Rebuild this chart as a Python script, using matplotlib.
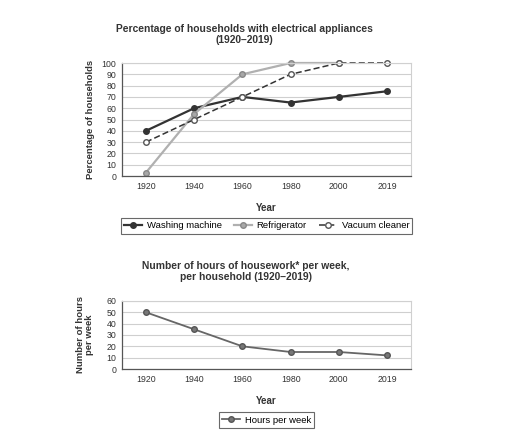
import numpy as np
import matplotlib.pyplot as plt

years = ["1920", "1940", "1960", "1980", "2000", "2019"]
washing = [40, 60, 70, 65, 70, 75]
fridge = [3, 55, 90, 100, 100, np.nan]
vacuum = [30, 50, 70, 90, 100, 100]
hours = [50, 35, 20, 15, 15, 12]

plt.rcParams["font.family"] = ["Liberation Sans", "DejaVu Sans"]
plt.rcParams["font.size"] = 6.5

fig = plt.figure(figsize=(5.12, 4.33), dpi=100)
x = np.arange(len(years))


def style_axes(ax, ymax, step):
    ax.set_xlim(-0.5, len(years) - 0.5)
    ax.set_ylim(0, ymax)
    ax.set_yticks(np.arange(0, ymax + 1, step))
    ax.set_xticks(x)
    ax.set_xticklabels(years)
    ax.grid(axis="y", color="#cfcfcf", linewidth=0.8)
    ax.set_axisbelow(True)
    ax.tick_params(length=0, colors="#333333", labelsize=6.3, pad=4)
    for s in ["top", "right"]:
        ax.spines[s].set_color("#d0d0d0")
        ax.spines[s].set_linewidth(0.8)
    for s in ["bottom", "left"]:
        ax.spines[s].set_color("#555555")
        ax.spines[s].set_linewidth(0.9)


# Grafica 1: electrodomesticos
ax1 = fig.add_axes([0.238, 0.5935, 0.565, 0.261])
ax1.plot(x, washing, color="#333333", lw=1.6, marker="o", ms=4,
         mfc="#333333", mec="#333333", label="Washing machine", clip_on=False)
ax1.plot(x, fridge, color="#b0b0b0", lw=1.6, marker="o", ms=4,
         mfc="#a8a8a8", mec="#888888", label="Refrigerator", clip_on=False)
ax1.plot(x, vacuum, color="#333333", lw=1.1, ls=(0, (4, 2)), marker="o", ms=4,
         mfc="white", mec="#555555", label="Vacuum cleaner", clip_on=False)
style_axes(ax1, 100, 10)
ax1.set_xlabel("Year", fontweight="bold", color="#333333", labelpad=9, fontsize=7)
ax1.set_ylabel("Percentage of households", fontweight="bold", color="#333333",
               labelpad=5, fontsize=6.8)
leg1 = ax1.legend(loc="upper center", bbox_to_anchor=(0.5, -0.33), ncol=3,
                  frameon=True, fancybox=False, edgecolor="#444444",
                  handlelength=1.9, handletextpad=0.5, borderpad=0.35,
                  columnspacing=1.3, fontsize=6.8)
leg1.get_frame().set_linewidth(0.8)

fig.text(0.478, 0.921, "Percentage of households with electrical appliances\n(1920\u20132019)",
         ha="center", va="center", fontweight="bold", fontsize=7.4, color="#333333",
         linespacing=1.1)

# Grafica 2: horas de tareas domesticas
ax2 = fig.add_axes([0.238, 0.1478, 0.565, 0.1571])
ax2.plot(x, hours, color="#666666", lw=1.3, marker="o", ms=4,
         mfc="#777777", mec="#555555", label="Hours per week", clip_on=False)
style_axes(ax2, 60, 10)
ax2.set_xlabel("Year", fontweight="bold", color="#333333", labelpad=9, fontsize=7)
ax2.set_ylabel("Number of hours\nper week", fontweight="bold", color="#333333",
               labelpad=9, linespacing=1.0, fontsize=6.8)
leg2 = ax2.legend(loc="upper center", bbox_to_anchor=(0.5, -0.57), frameon=True,
                  fancybox=False, edgecolor="#444444", handlelength=1.9,
                  handletextpad=0.5, borderpad=0.35, fontsize=6.8)
leg2.get_frame().set_linewidth(0.8)

fig.text(0.48, 0.373, "Number of hours of housework* per week,\nper household (1920\u20132019)",
         ha="center", va="center", fontweight="bold", fontsize=7.4, color="#333333",
         linespacing=1.1)

fig.savefig("out.png", dpi=100)
